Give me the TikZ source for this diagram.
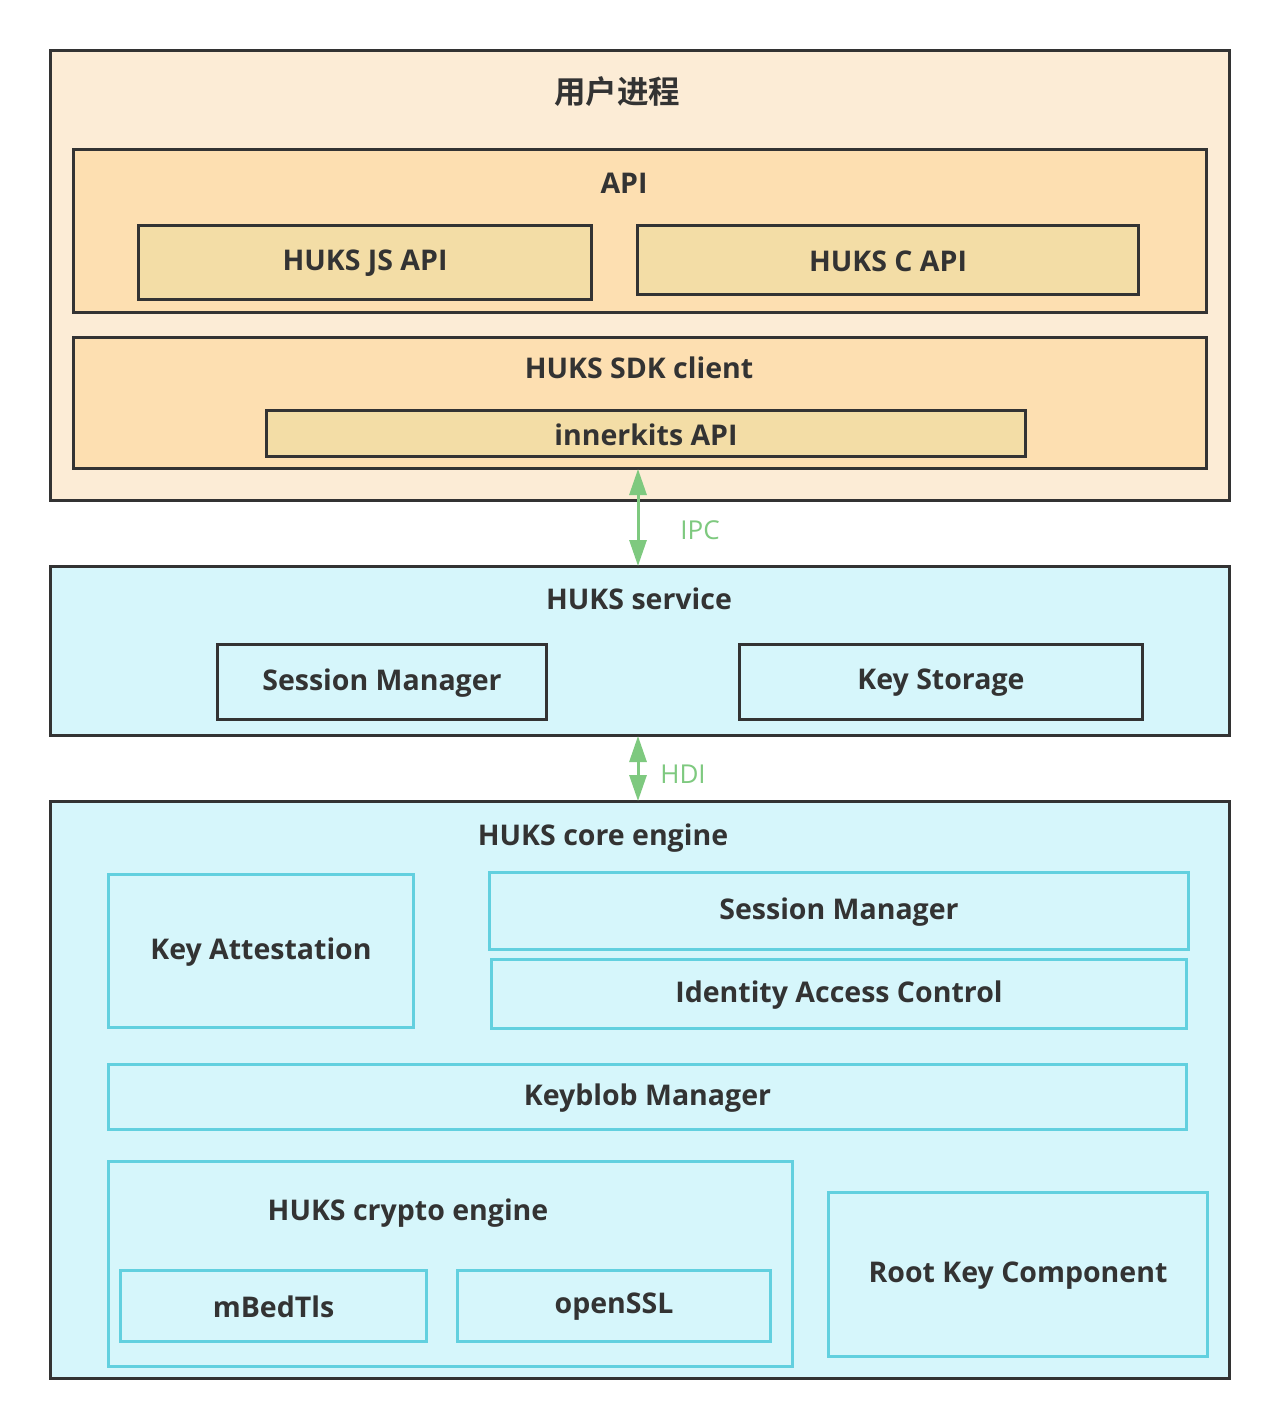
\documentclass[tikz,border=0pt]{standalone}
\usepackage{fontspec}
\setmainfont{Open Sans}[BoldFont={Open Sans Bold}]
\newfontfamily\cjk{Noto Sans CJK SC}[BoldFont={* Bold}]
\usetikzlibrary{arrows.meta}
\definecolor{txt}{HTML}{333333}
\definecolor{dark}{HTML}{333333}
\definecolor{peachA}{HTML}{FCECD6}
\definecolor{peachB}{HTML}{FDDFB1}
\definecolor{peachC}{HTML}{F3DDA6}
\definecolor{cyanF}{HTML}{D6F6FB}
\definecolor{cyanB}{HTML}{62D0DF}
\definecolor{grn}{HTML}{7EC97F}
\tikzset{
  blk/.style={draw=dark, line width=3pt, inner sep=0pt, anchor=north west},
  cbox/.style={draw=cyanB, fill=cyanF, line width=3pt, inner sep=0pt, anchor=north west},
  lbl/.style={text=txt, font=\bfseries\fontsize{28.5}{32}\selectfont, inner sep=0pt},
  glbl/.style={text=grn, font=\fontsize{26}{30}\selectfont, inner sep=0pt},
  biarrow/.style={draw=grn, line width=3pt, {Triangle[width=17pt,length=26pt]}-{Triangle[width=17pt,length=26pt]}, shorten <=-1pt, shorten >=-1pt}
}
\newcommand{\bx}[6]{\node[#1, minimum width=#4-#2, minimum height=#5-#3] (#6) at (#2,#3) {};}
\begin{document}
\begin{tikzpicture}[x=1pt,y=-1pt]
\useasboundingbox[fill=white] (0,0) rectangle (1278,1427);
% user process
\bx{blk,fill=peachA}{49}{49}{1228}{499}{user}
\node[lbl] (userT) at (617,92) {\cjk\bfseries\fontsize{31.5}{34}\selectfont 用户进程};
\bx{blk,fill=peachB}{72}{148}{1205}{311}{api}
\node[lbl] (apiT) at (624,183) {API};
\bx{blk,fill=peachC}{137}{224}{590}{298}{jsapi}
\node[lbl] at ([yshift=-1pt]jsapi.center) {HUKS JS API};
\bx{blk,fill=peachC}{636}{224}{1137}{293}{capi}
\node[lbl] at ([yshift=-1pt]capi.center) {HUKS C API};
\bx{blk,fill=peachB}{72}{336}{1205}{467}{sdk}
\node[lbl] (sdkT) at (639,368) {HUKS SDK client};
\bx{blk,fill=peachC}{265}{409}{1024}{455}{inner}
\node[lbl] at ([yshift=-1pt]inner.center) {innerkits API};
% service
\bx{blk,fill=cyanF}{49}{565}{1228}{734}{svc}
\node[lbl] (svcT) at (639,599) {HUKS service};
\bx{blk,fill=cyanF}{216}{643}{545}{718}{sm1}
\node[lbl] at ([yshift=-1pt]sm1.center) {Session Manager};
\bx{blk,fill=cyanF}{738}{643}{1141}{718}{ks}
\node[lbl] at ([yshift=-1pt]ks.center) {Key Storage};
% core engine
\bx{blk,fill=cyanF}{49}{800}{1228}{1377}{core}
\node[lbl] (coreT) at (603,838) {HUKS core engine};
\bx{cbox}{107}{873}{412}{1026}{ka}
\node[lbl] at ([yshift=-1pt]ka.center) {Key Attestation};
\bx{cbox}{488}{871}{1187}{948}{sm2}
\node[lbl] at ([yshift=-1pt]sm2.center) {Session Manager};
\bx{cbox}{490}{958}{1185}{1027}{iac}
\node[lbl] at ([yshift=-1pt]iac.center) {Identity Access Control};
\bx{cbox}{107}{1063}{1185}{1128}{kb}
\node[lbl] at ([yshift=-1pt]kb.center) {Keyblob Manager};
\bx{cbox}{107}{1160}{791}{1365}{crypto}
\node[lbl] (cryptoT) at (408,1213) {HUKS crypto engine};
\bx{cbox}{119}{1269}{425}{1340}{mbed}
\node[lbl] at ([yshift=-1pt]mbed.center) {mBedTls};
\bx{cbox}{456}{1269}{769}{1340}{ossl}
\node[lbl] at ([yshift=-1pt]ossl.center) {openSSL};
\bx{cbox}{827}{1191}{1206}{1355}{rkc}
\node[lbl] at ([yshift=-1pt]rkc.center) {Root Key Component};
% arrows
\coordinate (ax) at (638,0);
\draw[biarrow] (sdk.south -| ax) -- (svc.north -| ax);
\node[glbl] (ipc) at (700,530) {IPC};
\draw[biarrow] (svc.south -| ax) -- (core.north -| ax);
\node[glbl] (hdi) at (683,774) {HDI};
\end{tikzpicture}
\end{document}
